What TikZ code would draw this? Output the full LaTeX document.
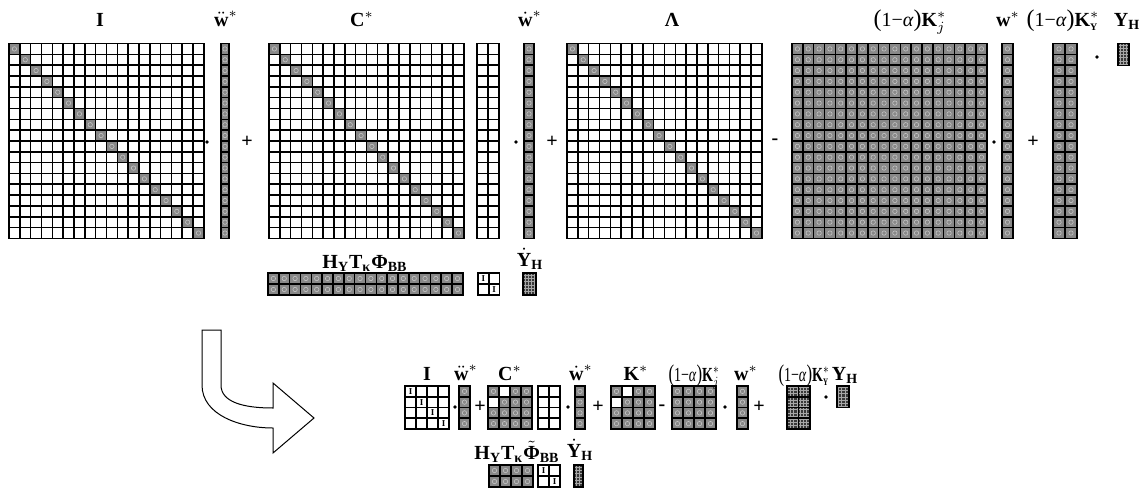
\documentclass[tikz,border=0pt]{standalone}
\usepackage{fontspec}
\setmainfont{Liberation Serif}
\usetikzlibrary{positioning}
\definecolor{cellgray}{HTML}{888888}
\definecolor{specklight}{HTML}{C4C4C4}
\definecolor{celldark}{HTML}{383838}

\newcommand{\bigcell}{10.83}
% block of cells: x, y, columns, rows, cell width, cell height, style
\newcommand{\cellblock}[7]{%
  \foreach \cc in {1,...,#3}{%
    \foreach \rr in {1,...,#4}{%
      \draw[#7] ({#1+(\cc-1)*#5},{#2+(\rr-1)*#6}) rectangle ++(#5,#6);}}}
% (1-alpha) factor
\newcommand{\omalpha}{{\mdseries{\fontsize{12}{12}\selectfont(}1−\textit{α}{\fontsize{12}{12}\selectfont)}}}

\begin{document}
\begin{tikzpicture}[x=0.5pt, y=-0.5pt,
    wcell/.style={draw=black, line width=0.8pt, fill=white},
    gcell/.style={draw=black, line width=0.8pt, fill=cellgray,
                  path picture={\draw[specklight, line width=0.3pt]
                      (path picture bounding box.center) circle (1.1pt);}},
    dcell/.style={draw=black, line width=0.8pt, fill=celldark,
                  path picture={\draw[gray!70, line width=0.3pt, step=1.6pt]
                      (path picture bounding box.south west) grid (path picture bounding box.north east);}},
    lbl/.style={font=\fontsize{10}{12}\selectfont\bfseries, inner sep=0pt, anchor=base},
    op/.style={font=\fontsize{10}{12}\selectfont\bfseries, inner sep=0pt},
    dotop/.style={circle, fill=black, inner sep=0pt, minimum size=1.8pt},
    tinyI/.style={font=\fontsize{4.5}{5}\selectfont\bfseries, inner sep=0pt},
]
    \useasboundingbox (0,0) rectangle (1142,489);

    % full system
    \cellblock{9}{43.5}{18}{18}{\bigcell}{\bigcell}{wcell}
    \foreach \i in {0,...,17}
        \draw[gcell] ({9+\i*\bigcell},{43.5+\i*\bigcell}) rectangle ++(\bigcell,\bigcell);
    \cellblock{221}{43.5}{1}{18}{8}{\bigcell}{gcell}
    \cellblock{269}{43.5}{18}{18}{\bigcell}{\bigcell}{wcell}
    \foreach \i in {0,...,17}
        \draw[gcell] ({269+\i*\bigcell},{43.5+\i*\bigcell}) rectangle ++(\bigcell,\bigcell);
    \cellblock{477}{43.5}{2}{18}{11}{\bigcell}{wcell}
    \cellblock{524}{43.5}{1}{18}{10}{\bigcell}{gcell}
    \cellblock{567}{43.5}{18}{18}{\bigcell}{\bigcell}{wcell}
    \foreach \i in {0,...,17}
        \draw[gcell] ({567+\i*\bigcell},{43.5+\i*\bigcell}) rectangle ++(\bigcell,\bigcell);
    \cellblock{792}{43.5}{18}{18}{\bigcell}{\bigcell}{gcell}
    \cellblock{1002}{43.5}{1}{18}{11}{\bigcell}{gcell}
    \cellblock{1053}{43.5}{2}{18}{12}{\bigcell}{gcell}
    \cellblock{1118}{43.5}{1}{1}{11}{22}{dcell}

    \node[lbl] (lblI) at (100,26) {I};
    \node[lbl] (lblWdd) at (226,26) {$\ddot{\hbox{w}}^{*}$};
    \node[lbl] (lblC) at (362,26) {C$^{*}$};
    \node[lbl] (lblWd) at (530,26) {$\dot{\hbox{w}}^{*}$};
    \node[lbl] (lblL) at (672,26) {Λ};
    \node[lbl] (lblKj) at (910,26) {\omalpha K$^{*}_{j}$};
    \node[lbl] (lblW) at (1008,26) {w$^{*}$};
    \node[lbl] (lblKy) at (1063,26) {\omalpha K$^{*}_{\hbox{\tiny\bfseries Y}}$};
    \node[lbl] (lblY) at (1127,26) {Y\textsubscript{H}};

    \node[dotop] (dotA) at (207,142) {};
    \node[op] (plusA) at (247,142) {+};
    \node[dotop] (dotB) at (516,142) {};
    \node[op] (plusB) at (552,142) {+};
    \node[op] (minusA) at (775,142) {-};
    \node[dotop] (dotC) at (994,142) {};
    \node[op] (plusC) at (1033,142) {+};
    \node[dotop] (dotD) at (1097,57) {};

    % constraint rows
    \cellblock{268}{273}{18}{2}{\bigcell}{11}{gcell}
    \cellblock{478}{273}{2}{2}{10.75}{11}{wcell}
    \node[tinyI] (idA1) at (483.4,278.5) {I};
    \node[tinyI] (idA2) at (494.1,289.5) {I};
    \cellblock{523}{273}{1}{1}{13}{22}{dcell}
    \node[lbl] (lblH) at (365,268) {H\textsubscript{Y}T\textsubscript{κ}Φ\textsubscript{BB}};
    \node[lbl] (lblYd) at (530,266) {$\dot{\hbox{Y}}$\textsubscript{H}};

    % transformation arrow
    \draw[line width=0.5pt, fill=white]
        (202,330) -- (202,385) .. controls (202,415) and (240,428) .. (273,428)
        -- (273,453) -- (314,418) -- (273,383) -- (273,408)
        .. controls (243,408) and (221,402) .. (221,385) -- (221,330) -- cycle;

    % reduced system
    \cellblock{405}{386}{4}{4}{11}{10.75}{wcell}
    \foreach \i in {0,...,3}
        \node[tinyI] (idB\i) at ({410.5+\i*11},{391.4+\i*10.75}) {I};
    \cellblock{459}{386}{1}{4}{11}{10.75}{gcell}
    \cellblock{488}{386}{4}{4}{11}{10.75}{gcell}
    \draw[wcell] (499,386) rectangle ++(11,10.75);
    \draw[wcell] (488,396.75) rectangle ++(11,10.75);
    \cellblock{538}{386}{2}{4}{11}{10.75}{wcell}
    \cellblock{575}{386}{1}{4}{10}{10.75}{gcell}
    \cellblock{611}{386}{4}{4}{11}{10.75}{gcell}
    \draw[wcell] (622,386) rectangle ++(11,10.75);
    \draw[wcell] (611,396.75) rectangle ++(11,10.75);
    \cellblock{672}{386}{4}{4}{11}{10.75}{gcell}
    \cellblock{737}{386}{1}{4}{11}{10.75}{gcell}
    \cellblock{787}{386}{2}{4}{11.5}{10.75}{dcell}
    \cellblock{837}{386}{1}{1}{12}{21.5}{dcell}

    \node[lbl] (lblIr) at (427,380) {I};
    \node[lbl] (lblWddr) at (466,380) {$\ddot{\hbox{w}}^{*}$};
    \node[lbl] (lblCr) at (510,380) {C$^{*}$};
    \node[lbl] (lblWdr) at (581,380) {$\dot{\hbox{w}}^{*}$};
    \node[lbl] (lblKr) at (636,380) {K$^{*}$};
    \node[lbl] (lblKjr) at (694,381) {\scalebox{0.7}[1]{\omalpha K$^{*}_{j}$}};
    \node[lbl] (lblWr) at (746,380) {w$^{*}$};
    \node[lbl] (lblKyr) at (804,381) {\scalebox{0.7}[1]{\omalpha K$^{*}_{\hbox{\tiny\bfseries Y}}$}};
    \node[lbl] (lblYr) at (845,380) {Y\textsubscript{H}};

    \node[dotop] (dotE) at (455,407) {};
    \node[op] (plusD) at (480,407) {+};
    \node[dotop] (dotF) at (568,407) {};
    \node[op] (plusE) at (598,407) {+};
    \node[op] (minusB) at (662,408) {-};
    \node[dotop] (dotG) at (725,407) {};
    \node[op] (plusF) at (759,407) {+};
    \node[dotop] (dotH) at (826,397) {};

    \cellblock{489}{465}{4}{2}{11}{11}{gcell}
    \cellblock{538}{465}{2}{2}{11}{11}{wcell}
    \node[tinyI] (idC1) at (543.5,470.5) {I};
    \node[tinyI] (idC2) at (554.5,481.5) {I};
    \cellblock{574}{465}{1}{1}{9}{22}{dcell}
    \node[lbl] (lblHr) at (517,459) {H\textsubscript{Y}T\textsubscript{κ}$\tilde{\hbox{Φ}}$\textsubscript{BB}};
    \node[lbl] (lblYdr) at (580,457) {$\dot{\hbox{Y}}$\textsubscript{H}};
\end{tikzpicture}
\end{document}
